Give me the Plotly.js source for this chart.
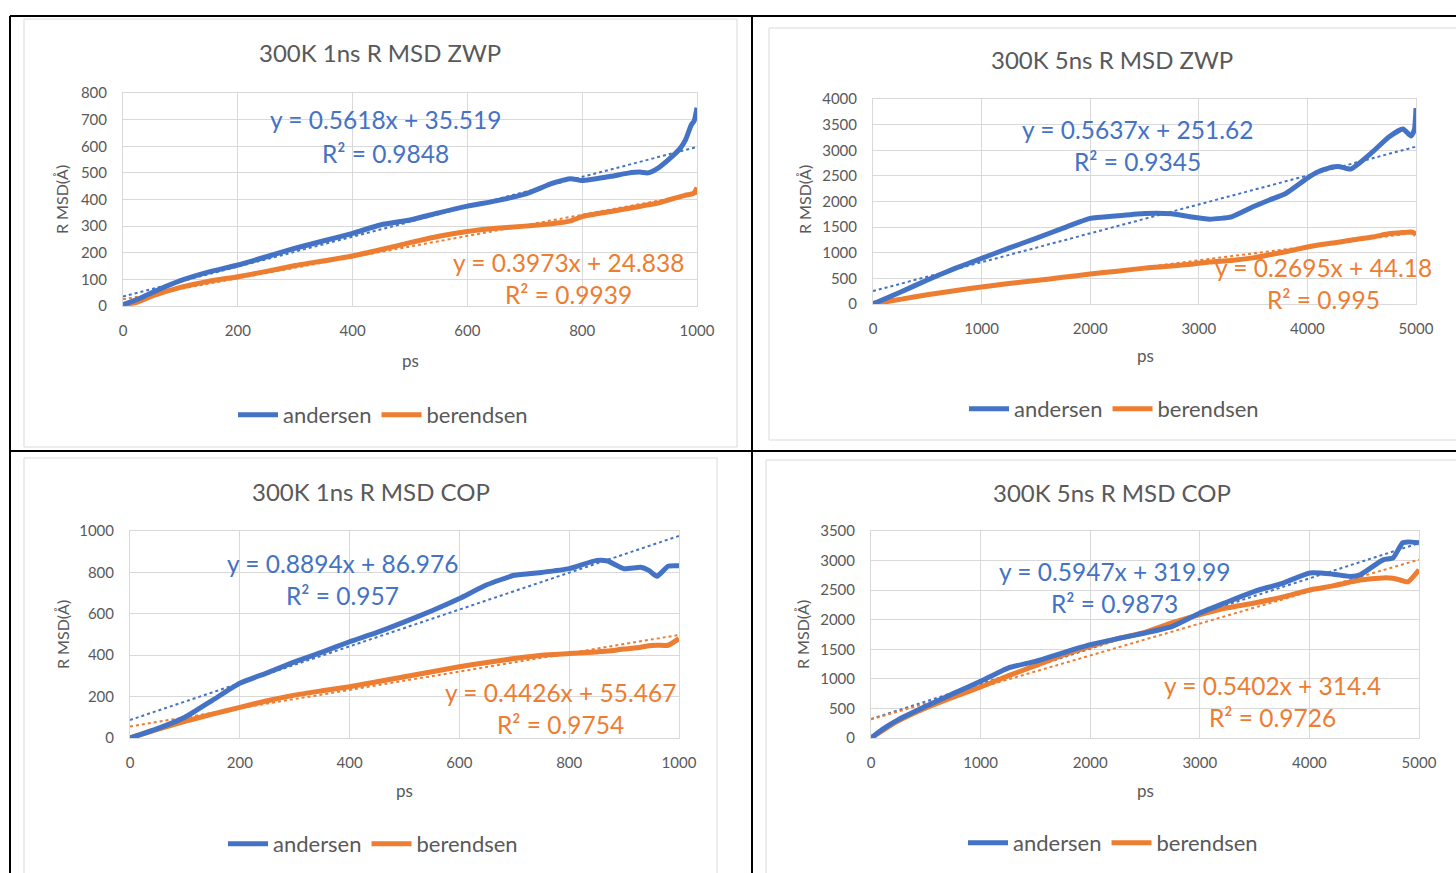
<!DOCTYPE html>
<html>
<head>
<meta charset="utf-8">
<script src="https://cdn.plot.ly/plotly-3.0.1.min.js"></script>
<style>
html,body{margin:0;padding:0;background:#fff;}
#chart{width:1456px;height:873px;}
</style>
</head>
<body>
<div id="chart"></div>
<script>
// ---------- DATA ----------
const seriesNames = ["andersen", "berendsen"];
const chartTitles = ["300K 1ns R MSD ZWP", "300K 5ns R MSD ZWP", "300K 1ns R MSD COP", "300K 5ns R MSD COP"];

// Chart 1: 300K 1ns ZWP
const zwp1Ps = [0, 25, 50, 100, 150, 200, 250, 300, 350, 400, 450, 500, 550, 600, 650, 700, 750, 780, 800, 850, 880, 900, 915, 930, 950, 970, 980, 990, 995, 1000];
const zwp1Andersen = [5, 25, 50, 95, 128, 154, 185, 217, 245, 273, 305, 323, 350, 375, 395, 420, 462, 478, 471, 487, 499, 503, 500, 515, 549, 590, 624, 680, 695, 745];
const zwp1Berendsen = [3, 15, 37, 70, 93, 110, 130, 152, 170, 188, 212, 238, 262, 280, 292, 300, 310, 320, 336, 355, 366, 374, 380, 386, 398, 410, 416, 420, 425, 445];

// Chart 2: 300K 5ns ZWP
const zwp5Ps = [0, 250, 500, 750, 1000, 1250, 1500, 1750, 2000, 2250, 2500, 2750, 2900, 3100, 3300, 3500, 3650, 3800, 4000, 4100, 4230, 4300, 4400, 4600, 4750, 4880, 4955, 4985, 5000];
const zwp5Andersen = [0, 230, 468, 690, 890, 1090, 1280, 1480, 1670, 1720, 1766, 1760, 1710, 1656, 1700, 1896, 2030, 2156, 2458, 2580, 2673, 2680, 2634, 2967, 3260, 3414, 3278, 3400, 3824];
const zwp5Berendsen = [0, 90, 180, 260, 332, 400, 460, 520, 585, 640, 700, 740, 770, 820, 850, 900, 960, 1020, 1112, 1150, 1190, 1210, 1245, 1307, 1370, 1395, 1405, 1380, 1346];

// Chart 3: 300K 1ns COP
const cop1Ps = [0, 50, 100, 150, 200, 250, 300, 350, 400, 450, 500, 550, 600, 650, 700, 750, 800, 850, 870, 900, 930, 945, 960, 980, 1000];
const cop1Andersen = [0, 45, 100, 182, 264, 315, 368, 415, 465, 510, 561, 615, 674, 740, 786, 800, 818, 858, 855, 818, 825, 810, 781, 830, 832];
const cop1Berendsen = [0, 42, 80, 115, 148, 180, 207, 228, 248, 272, 296, 320, 344, 365, 384, 400, 408, 416, 420, 430, 438, 446, 448, 448, 480];

// Chart 4: 300K 5ns COP
const cop5Ps = [0, 125, 250, 500, 750, 1000, 1250, 1500, 1750, 2000, 2250, 2500, 2750, 3000, 3250, 3500, 3760, 4005, 4215, 4380, 4462, 4672, 4763, 4850, 4900, 5000];
const cop5Andersen = [0, 170, 310, 535, 750, 958, 1183, 1296, 1440, 1578, 1680, 1775, 1888, 2114, 2300, 2480, 2620, 2790, 2770, 2730, 2758, 3012, 3045, 3300, 3316, 3300];
const cop5Berendsen = [0, 150, 290, 507, 690, 862, 1050, 1223, 1400, 1550, 1680, 1787, 1950, 2086, 2200, 2283, 2386, 2504, 2572, 2640, 2673, 2707, 2700, 2660, 2640, 2843];

// Linear trendlines (as shown on the chart)
const andersenSlopes = [0.5618, 0.5637, 0.8894, 0.5947];
const andersenIntercepts = [35.519, 251.62, 86.976, 319.99];
const andersenR2 = ["0.9848", "0.9345", "0.957", "0.9873"];
const berendsenSlopes = [0.3973, 0.2695, 0.4426, 0.5402];
const berendsenIntercepts = [24.838, 44.18, 55.467, 314.4];
const berendsenR2 = ["0.9939", "0.995", "0.9754", "0.9726"];

const xMax = [1000, 5000, 1000, 5000];
const yMax = [800, 4000, 1000, 3500];
const xDtick = [200, 1000, 200, 1000];
const yDtick = [100, 500, 200, 500];

// ---------- LAYOUT HELPERS ----------
const W = 1456, H = 873;
const px = v => v / W;
const py = v => 1 - v / H;
const BLUE = "#4472C4", ORANGE = "#ED7D31", GRAY = "#595959", GRID = "#D9D9D9";
const FONT = "Lato, 'Open Sans', sans-serif";

// plot areas in pixels: [left, right, top, bottom]
const plotBox = [
  [123, 697, 93, 306],
  [873, 1416, 99, 304],
  [130, 679, 531, 738],
  [871, 1419, 531, 738]
];
const titlePos = [[380, 52], [1112, 60], [371, 491], [1112, 492]];
const yTitlePos = [[62, 200], [805, 200], [62, 635], [802, 635]];
const xTitlePos = [[410, 360], [1145, 355], [404, 790], [1145, 790]];
const legendPos = [[383, 415], [1114, 409], [373, 844], [1113, 843]];
const eqBlue = [[385, 120, 153], [1137, 129, 161], [342, 563, 595], [1114, 571, 603]];
const eqOrange = [[568, 262, 294], [1323, 267, 299], [560, 692, 724], [1272, 685, 717]];

const psArr = [zwp1Ps, zwp5Ps, cop1Ps, cop5Ps];
const andArr = [zwp1Andersen, zwp5Andersen, cop1Andersen, cop5Andersen];
const berArr = [zwp1Berendsen, zwp5Berendsen, cop1Berendsen, cop5Berendsen];

const traces = [];
const layout = {
  width: W, height: H,
  margin: {l: 0, r: 0, t: 0, b: 0},
  paper_bgcolor: "#ffffff",
  plot_bgcolor: "#ffffff",
  hovermode: false,
  font: {family: FONT, color: GRAY},
  annotations: [],
  shapes: []
};

for (let i = 0; i < 4; i++) {
  const n = i === 0 ? "" : String(i + 1);
  const xa = "x" + n, ya = "y" + n;
  const leg = i === 0 ? "legend" : "legend" + (i + 1);
  const b = plotBox[i];

  // trendlines
  const tx = [0, xMax[i]];
  traces.push({
    x: tx, y: tx.map(v => andersenSlopes[i] * v + andersenIntercepts[i]),
    xaxis: xa, yaxis: ya, mode: "lines", showlegend: false,
    line: {color: BLUE, width: 2, dash: "dot"}
  });
  traces.push({
    x: tx, y: tx.map(v => berendsenSlopes[i] * v + berendsenIntercepts[i]),
    xaxis: xa, yaxis: ya, mode: "lines", showlegend: false,
    line: {color: ORANGE, width: 2, dash: "dot"}
  });
  // data series
  traces.push({
    x: psArr[i], y: berArr[i], name: seriesNames[1], legend: leg,
    xaxis: xa, yaxis: ya, mode: "lines",
    line: {color: ORANGE, width: 5, shape: "spline", smoothing: 0.5}
  });
  traces.push({
    x: psArr[i], y: andArr[i], name: seriesNames[0], legend: leg,
    xaxis: xa, yaxis: ya, mode: "lines",
    line: {color: BLUE, width: 5, shape: "spline", smoothing: 0.5}
  });

  layout["xaxis" + n] = {
    domain: [px(b[0]), px(b[1])], anchor: ya,
    range: [0, xMax[i]], dtick: xDtick[i], tick0: 0,
    showgrid: true, gridcolor: GRID, gridwidth: 1,
    zeroline: false, showline: true, linecolor: GRID, linewidth: 1, mirror: true,
    ticks: "outside", ticklen: 11, tickcolor: "rgba(0,0,0,0)",
    tickfont: {family: FONT, size: 15, color: GRAY}, fixedrange: true
  };
  layout["yaxis" + n] = {
    domain: [py(b[3]), py(b[2])], anchor: xa,
    range: [0, yMax[i]], dtick: yDtick[i], tick0: 0,
    showgrid: true, gridcolor: GRID, gridwidth: 1,
    zeroline: false, showline: true, linecolor: GRID, linewidth: 1, mirror: true,
    ticks: "outside", ticklen: 12, tickcolor: "rgba(0,0,0,0)",
    tickfont: {family: FONT, size: 15, color: GRAY}, fixedrange: true
  };

  layout[leg] = {
    orientation: "h", x: px(legendPos[i][0]), y: py(legendPos[i][1]),
    xanchor: "center", yanchor: "middle", bgcolor: "rgba(0,0,0,0)",
    font: {family: FONT, size: 22, color: GRAY},
    traceorder: "reversed", itemwidth: 40, tracegroupgap: 0
  };

  // titles
  layout.annotations.push({
    text: chartTitles[i], xref: "paper", yref: "paper",
    x: px(titlePos[i][0]), y: py(titlePos[i][1]), xanchor: "center", yanchor: "middle",
    showarrow: false, font: {family: FONT, size: 24, color: GRAY}
  });
  layout.annotations.push({
    text: "R MSD(Å)", xref: "paper", yref: "paper", textangle: -90,
    x: px(yTitlePos[i][0]), y: py(yTitlePos[i][1]), xanchor: "center", yanchor: "middle",
    showarrow: false, font: {family: FONT, size: 16, color: GRAY}
  });
  layout.annotations.push({
    text: "ps", xref: "paper", yref: "paper",
    x: px(xTitlePos[i][0]), y: py(xTitlePos[i][1]), xanchor: "center", yanchor: "middle",
    showarrow: false, font: {family: FONT, size: 17, color: GRAY}
  });
  // equations
  const fmt = (s, c) => "y = " + s + "x + " + c;
  const eqSize = 24.5;
  layout.annotations.push({
    text: fmt(andersenSlopes[i], andersenIntercepts[i]), xref: "paper", yref: "paper",
    x: px(eqBlue[i][0]), y: py(eqBlue[i][1]), xanchor: "center", yanchor: "middle",
    showarrow: false, font: {family: FONT, size: eqSize, color: BLUE}
  });
  layout.annotations.push({
    text: "R² = " + andersenR2[i], xref: "paper", yref: "paper",
    x: px(eqBlue[i][0]), y: py(eqBlue[i][2]), xanchor: "center", yanchor: "middle",
    showarrow: false, font: {family: FONT, size: eqSize, color: BLUE}
  });
  layout.annotations.push({
    text: fmt(berendsenSlopes[i], berendsenIntercepts[i]), xref: "paper", yref: "paper",
    x: px(eqOrange[i][0]), y: py(eqOrange[i][1]), xanchor: "center", yanchor: "middle",
    showarrow: false, font: {family: FONT, size: eqSize, color: ORANGE}
  });
  layout.annotations.push({
    text: "R² = " + berendsenR2[i], xref: "paper", yref: "paper",
    x: px(eqOrange[i][0]), y: py(eqOrange[i][2]), xanchor: "center", yanchor: "middle",
    showarrow: false, font: {family: FONT, size: eqSize, color: ORANGE}
  });
}

// chart panel frames (light gray)
const panels = [[24, 737, 19, 447], [769, 1470, 28, 440], [24, 717, 458, 890], [766, 1470, 460, 890]];
panels.forEach(p => layout.shapes.push({
  type: "rect", xref: "paper", yref: "paper", layer: "below",
  x0: px(p[0]), x1: px(p[1]), y0: py(p[3]), y1: py(p[2]),
  line: {color: "#D9D9D9", width: 1}, fillcolor: "rgba(0,0,0,0)"
}));
// table borders (black)
const tableLines = [
  [10, 16, 1470, 16], [10, 16, 10, 890], [752, 16, 752, 890], [10, 451, 1470, 451]
];
tableLines.forEach(l => layout.shapes.push({
  type: "line", xref: "paper", yref: "paper",
  x0: px(l[0]), y0: py(l[1]), x1: px(l[2]), y1: py(l[3]),
  line: {color: "#000000", width: 2}
}));

Plotly.newPlot("chart", traces, layout, {displayModeBar: false, staticPlot: true});
</script>
</body>
</html>
